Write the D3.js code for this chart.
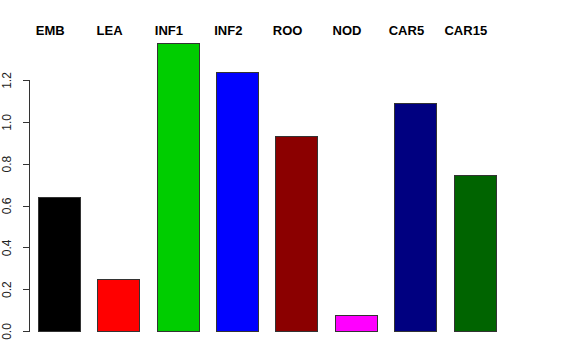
<!DOCTYPE html>
<html lang="en">
<head>
    <meta charset="UTF-8">
    <title>Barplot</title>
    <style>
        body { margin: 0; background: #fff; }
        svg { font-family: "Liberation Sans", Arial, sans-serif; }
        .axis path, .axis line { fill: none; stroke: #333; shape-rendering: crispEdges; }
        .axis text { fill: #222; font-size: 12px; }
        .bar { stroke: #333; stroke-width: 1; shape-rendering: crispEdges; }
        .name { font-weight: bold; font-size: 13px; fill: #000; }
    </style>
</head>
<body>
<div id="chart"></div>
<script src="https://d3js.org/d3.v7.min.js"></script>
<script>

    // data
    var names = ["EMB", "LEA", "INF1", "INF2", "ROO", "NOD", "CAR5", "CAR15"];
    var values = [0.64, 0.25, 1.377, 1.237, 0.93, 0.078, 1.092, 0.747];
    var colors = ["#000000", "#ff0000", "#00cd00", "#0000ff", "#8b0000", "#ff00ff", "#000080", "#006400"];
    var yTicks = [0.0, 0.2, 0.4, 0.6, 0.8, 1.0, 1.2];

    var width = 576, height = 360;

    var svg = d3.select("#chart").append("svg")
            .attr("width", width)
            .attr("height", height);

    // x scale for the bars
    var x = d3.scaleBand()
            .domain(names)
            .range([38, 496])
            .paddingInner(0.286)
            .paddingOuter(0);

    // y scale, 0 at bottom of plot
    var y = d3.scaleLinear()
            .domain([0, 1.2])
            .range([331, 80]);

    // bars
    svg.selectAll(".bar")
            .data(names)
            .enter().append("rect")
            .attr("class", "bar")
            .attr("x", function(d) { return Math.round(x(d)) + 0.5; })
            .attr("y", function(d, i) { return Math.round(y(values[i])) + 0.5; })
            .attr("width", Math.round(x.bandwidth()))
            .attr("height", function(d, i) { return Math.round(y(0)) - Math.round(y(values[i])); })
            .style("fill", function(d, i) { return colors[i]; });

    // names along the top
    svg.selectAll(".name")
            .data(names)
            .enter().append("text")
            .attr("class", "name")
            .attr("x", function(d) { return x(d) + x.bandwidth() / 2 - 9; })
            .attr("y", 35)
            .style("text-anchor", "middle")
            .text(function(d) { return d; });

    // y axis
    var yAxis = svg.append("g")
            .attr("class", "axis")
            .attr("transform", "translate(29.5,0)")
            .call(d3.axisLeft(y)
                    .tickValues(yTicks)
                    .tickSize(7)
                    .tickSizeOuter(0)
                    .tickFormat(d3.format(".1f")));

    yAxis.select(".domain").attr("d", "M0," + y(1.2) + "V" + y(0));

    // rotate tick labels like R does
    yAxis.selectAll(".tick text")
            .attr("x", 0)
            .attr("y", 0)
            .attr("dy", 0)
            .attr("transform", "translate(-18.5,0) rotate(-90)")
            .style("text-anchor", "middle");

</script>
</body>
</html>
